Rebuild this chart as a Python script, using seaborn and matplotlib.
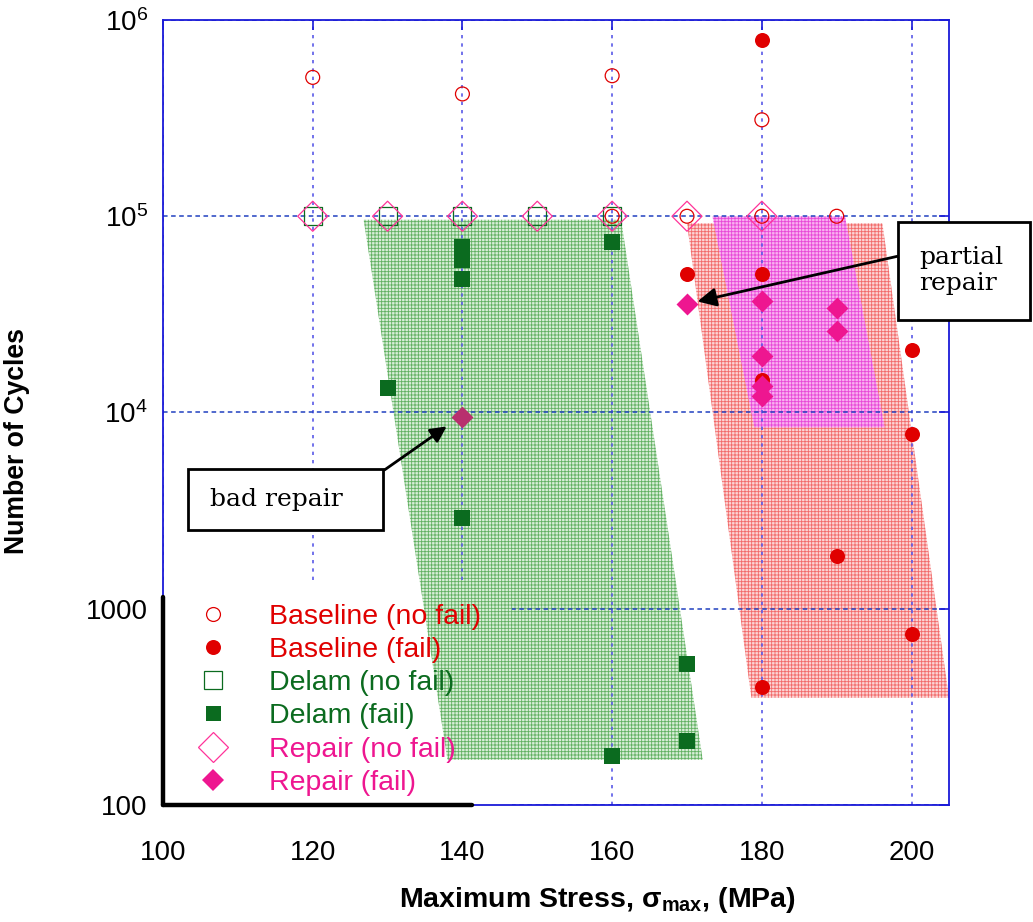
import matplotlib
matplotlib.use("Agg")
import matplotlib.pyplot as plt
import matplotlib.ticker as mticker
from matplotlib.lines import Line2D
from matplotlib.patches import Rectangle
import seaborn as sns

sns.set_theme(style="white")
plt.rcParams["font.family"] = ["Liberation Sans", "DejaVu Sans"]
plt.rcParams["mathtext.fontset"] = "custom"
plt.rcParams["mathtext.rm"] = "Liberation Sans"
plt.rcParams["mathtext.it"] = "Liberation Sans"
plt.rcParams["mathtext.bf"] = "Liberation Sans:bold"
plt.rcParams["hatch.linewidth"] = 0.6
plt.rcParams["text.color"] = "black"
plt.rcParams["axes.labelcolor"] = "black"

# ── data (stress in MPa, cycles) ────────────────────────────────────────────
baseline_nofail_x = [120, 140, 160, 180, 160, 170, 180, 190]
baseline_nofail_y = [5.1e5, 4.2e5, 5.2e5, 3.1e5, 1e5, 1e5, 1e5, 1e5]

baseline_fail_x = [180, 170, 180, 180, 200, 200, 190, 200, 180]
baseline_fail_y = [7.9e5, 5.1e4, 5.1e4, 1.47e4, 2.07e4, 7.8e3, 1.86e3, 740, 400]

delam_nofail_x = [120, 130, 140, 150, 160]
delam_nofail_y = [1e5, 1e5, 1e5, 1e5, 1e5]

delam_fail_x = [140, 140, 140, 160, 130, 140, 170, 170, 160]
delam_fail_y = [6.95e4, 6.0e4, 4.8e4, 7.4e4, 1.34e4, 2.9e3, 524, 213, 178]

repair_nofail_x = [120, 130, 140, 150, 160, 170, 180]
repair_nofail_y = [1e5, 1e5, 1e5, 1e5, 1e5, 1e5, 1e5]

repair_fail_x = [170, 180, 180, 180, 180, 190, 190]
repair_fail_y = [3.56e4, 3.7e4, 1.95e4, 1.36e4, 1.21e4, 3.4e4, 2.6e4]

bad_repair_x = [140]
bad_repair_y = [9.5e3]

# scatter bands
green_band_x = [126.8, 161.2, 172.1, 138.0]
green_band_y = [9.6e4, 9.6e4, 170, 170]
red_band_x = [170.0, 196.1, 205.0, 178.6]
red_band_y = [9.2e4, 9.2e4, 352, 352]
pink_band_x = [173.4, 191.1, 196.4, 179.0]
pink_band_y = [1e5, 1e5, 8.4e3, 8.4e3]

x_ticks = [100, 120, 140, 160, 180, 200]
y_ticks = [100, 1000, 1e4, 1e5, 1e6]
y_ticklabels = ["100", "1000", r"$\mathregular{10^4}$",
                r"$\mathregular{10^5}$", r"$\mathregular{10^6}$"]

RED = "#e00000"
GREEN = "#0b6b1f"
PINK = "#ee1690"
PINK_EDGE = "#ff3399"
BAD = "#b8306e"
BLUE = "#1a1ad8"

fig = plt.figure(figsize=(10.33, 9.22), dpi=100)
ax = fig.add_axes([163 / 1033, 1 - 805 / 922, 786 / 1033, 785 / 922])
ax.set_yscale("log")
ax.set_xlim(100, 205)
ax.set_ylim(100, 1e6)

# grid (drawn over the bands)
ax.set_axisbelow(True)
ax.xaxis.grid(True, color="#5a5ae8", ls=(0, (2, 3)), lw=1.2)
ax.yaxis.grid(True, color="#2040c0", ls=(0, (3, 2.3)), lw=1.1)

# bands
band_style = dict(hatch="+++++", lw=0)
ax.fill(green_band_x, green_band_y, facecolor="#d8eed8", edgecolor="#62b062",
        zorder=0.3, **band_style)
ax.fill(red_band_x, red_band_y, facecolor="#fcd4d4", edgecolor="#f26a6a",
        zorder=0.3, **band_style)
ax.fill(pink_band_x, pink_band_y, facecolor="#f9b0f0", edgecolor="#e848d8",
        zorder=0.35, **band_style)

# legend background hides the grid, the band still shows through
legend_bg = Rectangle((0, 0), 0.444, 0.28, transform=ax.transAxes,
                      facecolor="white", edgecolor="none", zorder=0.8)
ax.add_patch(legend_bg)
green_in_legend = ax.fill(green_band_x, green_band_y, facecolor="#d8eed8",
                          edgecolor="#62b062", zorder=0.9, **band_style)[0]
green_in_legend.set_clip_path(legend_bg)

# points
sns.scatterplot(x=baseline_nofail_x, y=baseline_nofail_y, marker="o", s=100,
                facecolors="none", edgecolor=RED, linewidth=0.9, ax=ax, zorder=4)
sns.scatterplot(x=baseline_fail_x, y=baseline_fail_y, marker="o", s=117,
                color=RED, edgecolor=RED, linewidth=0, ax=ax, zorder=3)
sns.scatterplot(x=delam_nofail_x, y=delam_nofail_y, marker="s", s=169,
                facecolors="none", edgecolor=GREEN, linewidth=0.9, ax=ax, zorder=3)
sns.scatterplot(x=delam_fail_x, y=delam_fail_y, marker="s", s=117,
                color=GREEN, edgecolor=GREEN, linewidth=0, ax=ax, zorder=3)
sns.scatterplot(x=repair_nofail_x, y=repair_nofail_y, marker="D", s=234,
                facecolors="none", edgecolor=PINK_EDGE, linewidth=0.9, ax=ax, zorder=3)
sns.scatterplot(x=repair_fail_x, y=repair_fail_y, marker="D", s=125,
                color=PINK, edgecolor=PINK, linewidth=0, ax=ax, zorder=3)
sns.scatterplot(x=bad_repair_x, y=bad_repair_y, marker="D", s=125,
                color=BAD, edgecolor=BAD, linewidth=0, ax=ax, zorder=3)

# axes styling
for sp in ax.spines.values():
    sp.set_color(BLUE)
    sp.set_linewidth(1.3)
ax.set_xticks(x_ticks)
ax.set_yticks(y_ticks)
ax.set_yticklabels(y_ticklabels)
ax.yaxis.set_minor_locator(mticker.NullLocator())
ax.tick_params(direction="in", length=7, width=1.2, color=BLUE, top=True,
               right=True, labelsize=20, labelcolor="black")
ax.tick_params(axis="x", pad=25)
ax.tick_params(axis="y", pad=11)

ax.set_xlabel(r"Maximum Stress, $\mathregular{\sigma_{max}}$, (MPa)",
              fontsize=20.5, fontweight="bold", va="center", color="black")
ax.xaxis.set_label_coords(0.553, -0.121)
ax.set_ylabel("Number of Cycles", fontsize=19.2, fontweight="bold",
              va="center", color="black")
ax.yaxis.set_label_coords(-0.186, 0.464)

# legend
handles = [
    Line2D([], [], ls="", marker="o", ms=10, mfc="none", mec=RED, mew=0.9),
    Line2D([], [], ls="", marker="o", ms=10.8, mfc=RED, mec=RED, mew=0),
    Line2D([], [], ls="", marker="s", ms=13, mfc="none", mec=GREEN, mew=0.9),
    Line2D([], [], ls="", marker="s", ms=10.8, mfc=GREEN, mec=GREEN, mew=0),
    Line2D([], [], ls="", marker="D", ms=15.3, mfc="none", mec=PINK_EDGE, mew=0.9),
    Line2D([], [], ls="", marker="D", ms=11.2, mfc=PINK, mec=PINK, mew=0),
]
labels = ["Baseline (no fail)", "Baseline (fail)", "Delam (no fail)",
          "Delam (fail)", "Repair (no fail)", "Repair (fail)"]
leg = ax.legend(handles, labels, loc="upper left", bbox_to_anchor=(0.046, 0.256),
                frameon=False, fontsize=20.5, handlelength=1.0,
                handletextpad=1.45, labelspacing=0.25, borderpad=0,
                borderaxespad=0)
for txt, col in zip(leg.get_texts(), [RED, RED, GREEN, GREEN, PINK, PINK]):
    txt.set_color(col)
leg.set_zorder(6)

# black L-shaped frame of the legend
ax.plot([0, 0], [0, 0.265], color="black", lw=3.2, transform=ax.transAxes,
        clip_on=False, zorder=7)
ax.plot([0, 0.393], [0, 0], color="black", lw=3.2, transform=ax.transAxes,
        clip_on=False, zorder=7)

# annotations
ax.add_patch(Rectangle((0.935, 0.618), 0.168, 0.125, transform=ax.transAxes,
                       facecolor="white", edgecolor="black", lw=2,
                       clip_on=False, zorder=8))
ax.text(0.962, 0.681, "partial\nrepair", transform=ax.transAxes,
        family="DejaVu Serif", fontsize=18, ha="left", va="center",
        linespacing=1.15, zorder=9)
ax.annotate("", xy=(171.4, 3.68e4), xytext=(198.1, 6.25e4),
            arrowprops=dict(arrowstyle="-|>", color="black", lw=2,
                            mutation_scale=28, shrinkA=0, shrinkB=0),
            zorder=9, annotation_clip=False)

ax.add_patch(Rectangle((0.0318, 0.350), 0.248, 0.078, transform=ax.transAxes,
                       facecolor="white", edgecolor="black", lw=2, zorder=8))
ax.text(0.144, 0.389, "bad repair", transform=ax.transAxes,
        family="DejaVu Serif", fontsize=18, ha="center", va="center", zorder=9)
ax.annotate("", xy=(137.9, 8.5e3), xytext=(129.6, 5.1e3),
            arrowprops=dict(arrowstyle="-|>", color="black", lw=2,
                            mutation_scale=24, shrinkA=0, shrinkB=0),
            zorder=9)

fig.savefig("out.png", dpi=100)
